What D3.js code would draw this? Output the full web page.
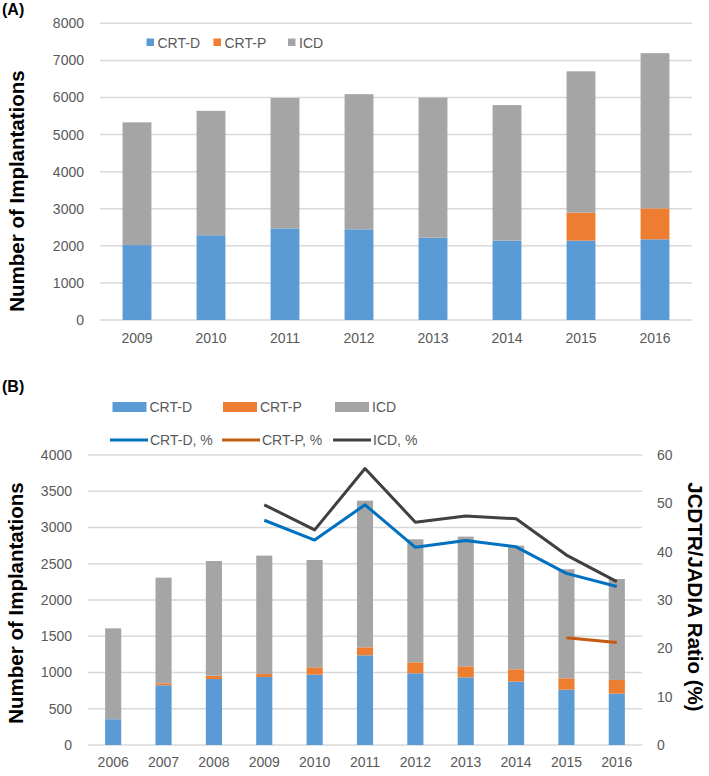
<!DOCTYPE html>
<html><head><meta charset="utf-8">
<script src="https://cdn.jsdelivr.net/npm/d3@7"></script>
<style>body{margin:0;background:#fff;} svg{display:block;font-family:"Liberation Sans",Arial,sans-serif;}</style>
</head><body>
<script>
// ---- Panel A data ----
const yearsA = ["2009","2010","2011","2012","2013","2014","2015","2016"];
const crtdA = [2020, 2285, 2470, 2445, 2220, 2140, 2140, 2175];
const crtpA = [0, 0, 0, 0, 0, 0, 755, 835];
const icdA  = [3310, 3355, 3515, 3645, 3775, 3655, 3810, 4185];
const ticksA = [0,1000,2000,3000,4000,5000,6000,7000,8000];

// ---- Panel B data ----
const yearsB = ["2006","2007","2008","2009","2010","2011","2012","2013","2014","2015","2016"];
const crtdB = [355, 823, 910, 938, 970, 1237, 989, 933, 874, 763, 708];
const crtpB = [0, 28, 46, 41, 101, 110, 151, 152, 170, 157, 189];
const icdB  = [1254, 1457, 1582, 1633, 1481, 2023, 1697, 1789, 1705, 1503, 1393];
const crtdPct = [null, null, null, 46.5, 42.4, 49.7, 40.9, 42.3, 41.0, 35.5, 32.8];
const crtpPct = [null, null, null, null, null, null, null, null, null, 22.2, 21.2];
const icdPct  = [null, null, null, 49.7, 44.5, 57.2, 46.1, 47.4, 46.8, 39.3, 33.8];
const ticksB = [0,500,1000,1500,2000,2500,3000,3500,4000];
const ticksPct = [0,10,20,30,40,50,60];

const seriesNames = ["CRT-D","CRT-P","ICD"];
const lineNames = ["CRT-D, %","CRT-P, %","ICD, %"];
const colors = {"CRT-D":"#5B9BD5","CRT-P":"#ED7D31","ICD":"#A5A5A5"};
const lineColors = {"CRT-D, %":"#0070C0","CRT-P, %":"#C55A11","ICD, %":"#404040"};

const W = 709, H = 776;
const svg = d3.select("body").append("svg").attr("width", W).attr("height", H);
const tickColor = "#595959", gridColor = "#D9D9D9";
const fmt = d3.format("d");

function styleTicks(sel) {
  sel.select(".domain").remove();
  sel.selectAll("text").attr("fill", tickColor).style("font-size","14px").style("font-family","'Liberation Sans',Arial,sans-serif");
}

function stackedPanel(g, years, crtd, crtp, icd, ticks, xr, yr, yMax, pad) {
  const x = d3.scaleBand().domain(years).range(xr).paddingInner(pad).paddingOuter(pad/2);
  const y = d3.scaleLinear().domain([0, yMax]).range(yr);
  g.append("g").selectAll("line").data(ticks).join("line")
    .attr("x1", xr[0]).attr("x2", xr[1])
    .attr("y1", d => y(d)).attr("y2", d => y(d))
    .attr("stroke", gridColor).attr("stroke-width", 1.5);
  const yAxis = d3.axisLeft(y).tickValues(ticks).tickFormat(fmt).tickSize(0).tickPadding(0);
  styleTicks(g.append("g").attr("transform", `translate(${xr[0]-16},0)`).call(yAxis));
  const rows = years.map((yr_, i) => ({year: yr_, vals: [crtd[i], crtp[i], icd[i]]}));
  rows.forEach(r => {
    let acc = 0;
    r.vals.forEach((v, k) => {
      if (v > 0) {
        g.append("rect").attr("x", x(r.year)).attr("width", x.bandwidth())
          .attr("y", y(acc + v)).attr("height", y(acc) - y(acc + v))
          .attr("fill", colors[seriesNames[k]]);
      }
      acc += v;
    });
  });
  const xAxis = d3.axisBottom(x).tickSize(0).tickPadding(0);
  return {x, y, xAxis};
}

// ---------- Panel A ----------
const gA = svg.append("g");
const A = stackedPanel(gA, yearsA, crtdA, crtpA, icdA, ticksA, [100, 692], [320, 23.3], 8000, 0.61);
styleTicks(gA.append("g").attr("transform", "translate(0,333)").call(A.xAxis));
gA.append("text").attr("x", 2).attr("y", 15).text("(A)").style("font-weight","bold").style("font-size","16px").attr("fill","#000");
gA.append("text").attr("transform", "translate(24,191) rotate(-90)").attr("text-anchor","middle")
  .text("Number of Implantations").style("font-weight","bold").style("font-size","20.5px").attr("fill","#000");
const legAx = [146.5, 213.5, 288];
seriesNames.forEach((n, i) => {
  gA.append("rect").attr("x", legAx[i]).attr("y", 38.5).attr("width", 7.5).attr("height", 7.5).attr("fill", colors[n]);
  gA.append("text").attr("x", legAx[i] + 11).attr("y", 47.5).text(n).attr("fill", tickColor).style("font-size","14px");
});

// ---------- Panel B ----------
const gB = svg.append("g");
const B = stackedPanel(gB, yearsB, crtdB, crtpB, icdB, ticksB, [88, 642], [745, 455], 4000, 0.68);
styleTicks(gB.append("g").attr("transform", "translate(0,757)").call(B.xAxis));
const yR = d3.scaleLinear().domain([0, 60]).range([745, 455]);
styleTicks(gB.append("g").attr("transform", "translate(657,0)").call(d3.axisRight(yR).tickValues(ticksPct).tickFormat(fmt).tickSize(0).tickPadding(0)));

const line = d3.line().defined(d => d.v !== null)
  .x(d => B.x(d.year) + B.x.bandwidth()/2).y(d => yR(d.v));
[[icdPct,"ICD, %"],[crtdPct,"CRT-D, %"],[crtpPct,"CRT-P, %"]].forEach(([arr, n]) => {
  gB.append("path").datum(yearsB.map((yy, i) => ({year: yy, v: arr[i]})))
    .attr("d", line).attr("fill","none").attr("stroke", lineColors[n]).attr("stroke-width", 3)
    .attr("stroke-linejoin","round");
});

gB.append("text").attr("x", 2).attr("y", 392).text("(B)").style("font-weight","bold").style("font-size","16px").attr("fill","#000");
gB.append("text").attr("transform", "translate(23,603) rotate(-90)").attr("text-anchor","middle")
  .text("Number of Implantations").style("font-weight","bold").style("font-size","20.5px").attr("fill","#000");
gB.append("text").attr("transform", "translate(688,597) rotate(90)").attr("text-anchor","middle")
  .text("JCDTR/JADIA Ratio (%)").style("font-weight","bold").style("font-size","20.5px").attr("fill","#000");

const legBx = [112.5, 223, 335];
seriesNames.forEach((n, i) => {
  gB.append("rect").attr("x", legBx[i]).attr("y", 402).attr("width", 34).attr("height", 10).attr("fill", colors[n]);
  gB.append("text").attr("x", legBx[i] + 37).attr("y", 412).text(n).attr("fill", tickColor).style("font-size","14px");
});
const legLx = [110, 222, 333];
lineNames.forEach((n, i) => {
  gB.append("line").attr("x1", legLx[i]).attr("x2", legLx[i] + 38).attr("y1", 440).attr("y2", 440)
    .attr("stroke", lineColors[n]).attr("stroke-width", 3);
  gB.append("text").attr("x", legLx[i] + 40).attr("y", 445).text(n).attr("fill", tickColor).style("font-size","14px");
});
</script>
</body></html>
